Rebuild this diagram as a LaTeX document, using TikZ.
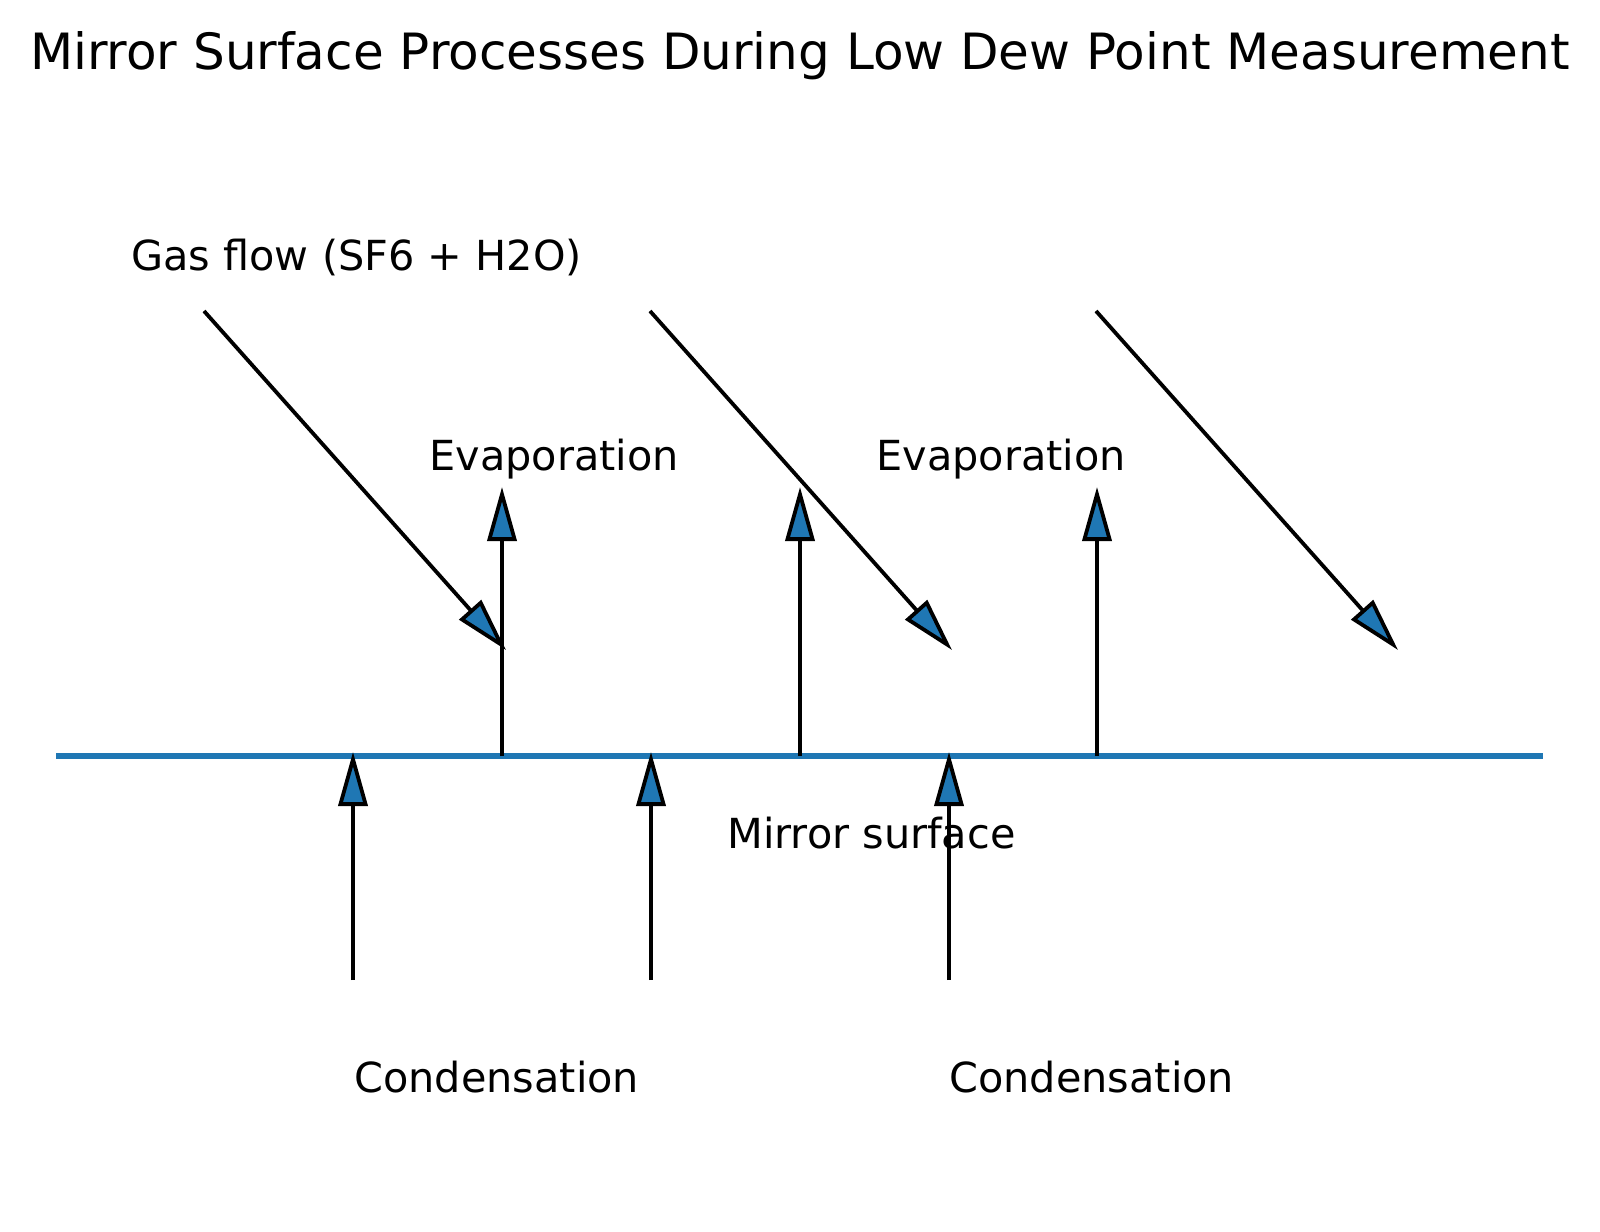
\documentclass[tikz,border=0pt]{standalone}
\usepackage{fontspec}
\setmainfont{DejaVu Sans}
\usetikzlibrary{arrows.meta}
\definecolor{tabblue}{HTML}{1F77B4}
\begin{document}
\begin{tikzpicture}[x=0.5pt,y=-0.5pt,
  flow/.style={line width=1.9pt,draw=black,miter limit=10,
    -{Triangle[length=27pt,width=14.5pt,fill=tabblue]}},
  lbl/.style={inner sep=0pt,anchor=base west,font=\fontsize{20.7pt}{24pt}\selectfont},
  ttl/.style={inner sep=0pt,anchor=base,font=\fontsize{25pt}{30pt}\selectfont}]
\useasboundingbox (0,0) rectangle (1600,1231);
\fill[white] (0,0) rectangle (1600,1231);
% mirror surface
\coordinate (mL) at (56,756);
\coordinate (mR) at (1543,756);
\draw[tabblue,line width=3pt] (mL) -- (mR);
% gas flow arrows
\foreach \i/\x in {1/204,2/650,3/1096}{
  \coordinate (g\i s) at (\x,311);
  \coordinate (g\i e) at (\x+302,650);
  \draw[flow] (g\i s) -- (g\i e);
}
% evaporation arrows
\foreach \i/\x in {1/502,2/800,3/1097}{
  \coordinate (e\i s) at (\x,756);
  \coordinate (e\i e) at (\x,487);
  \draw[flow] (e\i s) -- (e\i e);
}
% condensation arrows
\foreach \i/\x in {1/353,2/651,3/949}{
  \coordinate (c\i s) at (\x,980);
  \coordinate (c\i e) at (\x,752);
  \draw[flow] (c\i s) -- (c\i e);
}
\node[ttl] (title) at (800,69) {Mirror Surface Processes During Low Dew Point Measurement};
\node[lbl] (gas) at (131,270) {Gas flow (SF6 + H2O)};
\node[lbl] (ev1) at (429,470) {Evaporation};
\node[lbl] (ev2) at (876,470) {Evaporation};
\node[lbl] (mir) at (727,848) {Mirror surface};
\node[lbl] (co1) at (354,1092) {Condensation};
\node[lbl] (co2) at (949,1092) {Condensation};
\end{tikzpicture}
\end{document}
